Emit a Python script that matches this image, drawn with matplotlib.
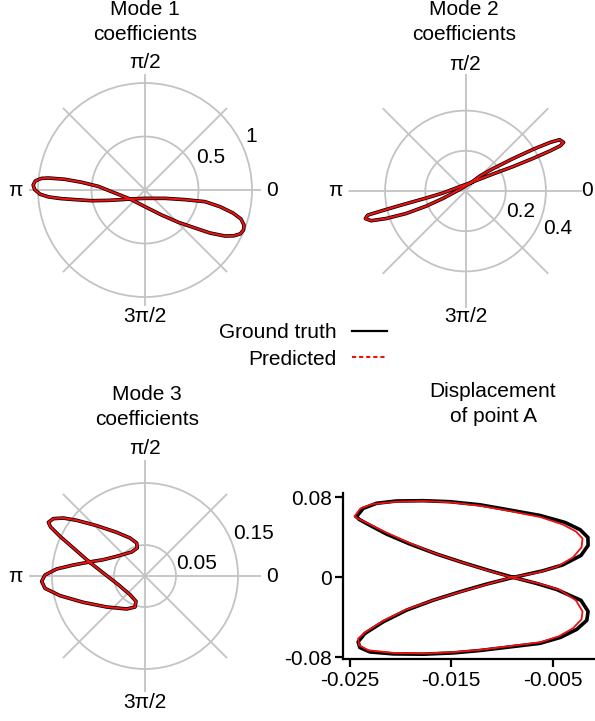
import numpy as np
import matplotlib
matplotlib.use('Agg')
import matplotlib.pyplot as plt
from matplotlib.lines import Line2D

plt.rcParams['font.family'] = ['Liberation Sans', 'DejaVu Sans']
plt.rcParams['axes.unicode_minus'] = False

# mode coefficients (real / imaginary parts), one loop of each
mode1_re = [-0.140, 0.000, 0.187, 0.374, 0.561, 0.701, 0.822, 0.897, 0.925, 0.921, 0.890, 0.830,
            0.748, 0.607, 0.467, 0.312, 0.156, 0.000, -0.140, -0.218, -0.312, -0.436, -0.592,
            -0.748, -0.903, -0.969, -1.025, -1.045, -1.032, -0.980, -0.900, -0.790, -0.654,
            -0.498, -0.343, -0.218, -0.140]
mode1_im = [-0.084, -0.078, -0.078, -0.090, -0.109, -0.156, -0.215, -0.271, -0.327, -0.374,
            -0.410, -0.428, -0.430, -0.402, -0.355, -0.302, -0.234, -0.156, -0.084, -0.053,
            -0.016, 0.034, 0.072, 0.100, 0.112, 0.108, 0.085, 0.047, 0.005, -0.040, -0.065,
            -0.080, -0.090, -0.100, -0.097, -0.090, -0.084]

mode2_re = [0.030, 0.138, 0.238, 0.338, 0.422, 0.472, 0.488, 0.468, 0.422, 0.338, 0.238, 0.138, 0.072,
            0.030, -0.028, -0.112, -0.195, -0.295, -0.395, -0.470, -0.498, -0.487, -0.395, -0.295,
            -0.195, -0.112, -0.028, 0.030]
mode2_im = [0.043, 0.085, 0.122, 0.163, 0.200, 0.225, 0.242, 0.255, 0.242, 0.208, 0.162, 0.112, 0.075,
            0.043, 0.008, -0.037, -0.075, -0.112, -0.137, -0.148, -0.137, -0.120, -0.092, -0.063,
            -0.035, -0.010, 0.022, 0.043]

mode3_re = [-0.0898, -0.1156, -0.1371, -0.1522, -0.1559, -0.1478, -0.1317, -0.1102, -0.0780, -0.0457,
            -0.0242, -0.0134, -0.0124, -0.0215, -0.0457, -0.0672, -0.0898, -0.1156, -0.1425, -0.1613,
            -0.1667, -0.1613, -0.1371, -0.0995, -0.0618, -0.0296, -0.0161, -0.0145, -0.0242, -0.0430,
            -0.0672, -0.0898]
mode3_im = [0.0226, 0.0452, 0.0640, 0.0790, 0.0866, 0.0925, 0.0935, 0.0898, 0.0812, 0.0704, 0.0613,
            0.0532, 0.0452, 0.0387, 0.0317, 0.0263, 0.0226, 0.0177, 0.0113, 0.0016, -0.0086, -0.0199,
            -0.0317, -0.0425, -0.0500, -0.0532, -0.0500, -0.0409, -0.0301, -0.0140, 0.0048, 0.0226]

# displacement of point A, ground truth
true_x = [-0.02434, -0.02368, -0.02237, -0.02039, -0.01776, -0.01513, -0.01217, -0.00953, -0.00624,
          -0.00377, -0.00229, -0.00152, -0.00150, -0.00220, -0.00400, -0.00600, -0.00888, -0.01151,
          -0.01414, -0.01677, -0.01941, -0.02171, -0.02352, -0.02418, -0.02401, -0.02303, -0.02072,
          -0.01776, -0.01480, -0.01217, -0.00953, -0.00624, -0.00420, -0.00262, -0.00163, -0.00150,
          -0.00220, -0.00460, -0.00660, -0.00888, -0.01118, -0.01381, -0.01644, -0.01908, -0.02138,
          -0.02319, -0.02408, -0.02434]
true_y = [0.0608, 0.0691, 0.0742, 0.0765, 0.0768, 0.0758, 0.0727, 0.0680, 0.0620, 0.0550, 0.0478,
          0.0400, 0.0320, 0.0220, 0.0125, 0.0065, 0.0000, -0.0067, -0.0144, -0.0228, -0.0328,
          -0.0445, -0.0562, -0.0645, -0.0702, -0.0746, -0.0766, -0.0769, -0.0756, -0.0732, -0.0700,
          -0.0660, -0.0600, -0.0520, -0.0430, -0.0340, -0.0230, -0.0121, -0.0060, 0.0000, 0.0066,
          0.0147, 0.0234, 0.0334, 0.0434, 0.0531, 0.0581, 0.0608]

# displacement of point A, predicted
pred_x = [-0.02451, -0.02395, -0.02270, -0.02039, -0.01776, -0.01513, -0.01217, -0.00953, -0.00624,
          -0.00400, -0.00270, -0.00205, -0.00215, -0.00300, -0.00450, -0.00640, -0.00904, -0.01151,
          -0.01414, -0.01677, -0.01941, -0.02171, -0.02342, -0.02418, -0.02408, -0.02319, -0.02072,
          -0.01776, -0.01480, -0.01217, -0.00953, -0.00624, -0.00440, -0.00300, -0.00215, -0.00205,
          -0.00270, -0.00430, -0.00640, -0.00904, -0.01151, -0.01414, -0.01677, -0.01941, -0.02171,
          -0.02335, -0.02428, -0.02451]
pred_y = [0.0615, 0.0691, 0.0735, 0.0758, 0.0765, 0.0752, 0.0718, 0.0670, 0.0605, 0.0530, 0.0460,
          0.0390, 0.0300, 0.0200, 0.0110, 0.0050, 0.0000, -0.0070, -0.0147, -0.0228, -0.0321,
          -0.0435, -0.0545, -0.0612, -0.0679, -0.0729, -0.0756, -0.0762, -0.0749, -0.0726, -0.0692,
          -0.0650, -0.0590, -0.0510, -0.0420, -0.0340, -0.0230, -0.0125, -0.0060, 0.0000, 0.0073,
          0.0157, 0.0247, 0.0357, 0.0464, 0.0548, 0.0591, 0.0615]

angle_labels = ['0', 'π/2', 'π', '3π/2']

FS = 15
GRID = '#c3c3c3'
RED = '#ee1111'
W, H = 595, 721

fig = plt.figure(figsize=(W / 100, H / 100), dpi=100)


def polar_panel(cx, cy, rpx, rmax, rings, ring_text, re, im, label_px=(127, 127, 130, 126)):
    ax = fig.add_axes([(cx - rpx) / W, (H - cy - rpx) / H, 2 * rpx / W, 2 * rpx / H],
                      projection='polar')
    ax.set_ylim(0, rmax)
    ax.set_xticks(np.deg2rad(np.arange(0, 360, 45)))
    ax.set_xticklabels([])
    ax.set_yticks(rings)
    ax.set_yticklabels([])
    ax.grid(True, color=GRID, lw=1.3)
    ax.spines['polar'].set_visible(False)
    ax.tick_params(length=0)
    scale = rmax / rpx
    for ang, lab, d in zip([0, 90, 180, 270], angle_labels, label_px):
        ax.text(np.deg2rad(ang), d * scale, lab, ha='center', va='center',
                fontsize=FS, clip_on=False)
    for ang, r, lab in ring_text:
        ax.text(np.deg2rad(ang), r, lab, ha='center', va='center', fontsize=FS)
    z = np.array(re) + 1j * np.array(im)
    ax.plot(np.angle(z), np.abs(z), color='black', lw=2.6, solid_joinstyle='round')
    ax.plot(np.angle(z), np.abs(z), color=RED, lw=1.5, solid_joinstyle='round')
    return ax


polar_panel(145, 190, 116, 116 / 107, [0.5, 1.0],
            [(26.6, 0.682, '0.5'), (26.8, 1.107, '1')], mode1_re, mode1_im)
polar_panel(465.5, 191, 117, 117 / 201, [0.2, 0.4],
            [(-20.6, 0.292, '0.2'), (-22.0, 0.495, '0.4')], mode2_re, mode2_im,
            label_px=(122, 127, 130, 126))
polar_panel(145, 576, 116, 116 / 620, [0.05, 0.15],
            [(13.8, 0.0858, '0.05'), (21.5, 0.1877, '0.15')], mode3_re, mode3_im)

for x, y, s in [(145, 22, 'Mode 1\ncoefficients'), (464, 22, 'Mode 2\ncoefficients'),
                (147, 407, 'Mode 3\ncoefficients'), (493, 404, 'Displacement\nof point A')]:
    fig.text(x / W, 1 - y / H, s, ha='center', va='center', fontsize=FS, linespacing=1.42)

# displacement panel
ax = fig.add_axes([342.7 / W, (H - 659) / H, (W - 342.7) / W, (659 - 493.3) / H])
ax.plot(true_x, true_y, color='black', lw=2.6, solid_joinstyle='round')
ax.plot(pred_x, pred_y, color=RED, lw=1.3, solid_joinstyle='round')
ax.set_xlim(-0.0257, -0.00082)
ax.set_ylim(-0.0817, 0.0842)
ax.set_xticks([-0.025, -0.015, -0.005])
ax.set_xticklabels(['-0.025', '-0.015', '-0.005'])
ax.set_yticks([-0.08, 0, 0.08])
ax.set_yticklabels(['-0.08', '0', '0.08'])
ax.spines['top'].set_visible(False)
ax.spines['right'].set_visible(False)
for s in ['left', 'bottom']:
    ax.spines[s].set_linewidth(1.6)
ax.tick_params(labelsize=FS, length=5.5, width=1.6, pad=3)
ax.tick_params(axis='y', pad=2)
ax.set_facecolor('none')

handles = [Line2D([], [], color='black', lw=1.6),
           Line2D([], [], color=RED, lw=1.5, dashes=(2, 1.4))]
fig.legend(handles, ['Ground truth', 'Predicted'], loc='center',
           bbox_to_anchor=(303 / W, 1 - 346 / H), frameon=False, fontsize=FS,
           markerfirst=False, handlelength=1.7, handletextpad=0.75, labelspacing=0.35,
           borderpad=0, borderaxespad=0)

fig.savefig('out.png', dpi=100)
